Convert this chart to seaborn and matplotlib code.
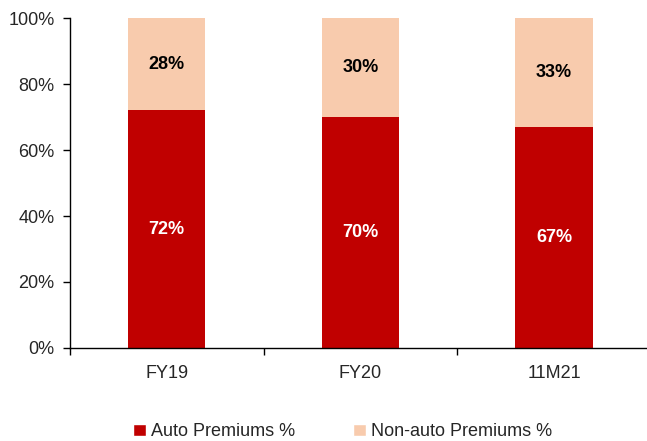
import numpy as np
import pandas as pd
import matplotlib.pyplot as plt
import seaborn as sns
from matplotlib.patches import Patch
from matplotlib.ticker import FixedLocator, PercentFormatter

# Data
periods = ['FY19', 'FY20', '11M21']
auto_pct = [72, 70, 67]
non_auto_pct = [28, 30, 33]

red = '#C00000'
peach = '#F8CBAD'

df = pd.DataFrame({'Period': periods, 'Auto': auto_pct, 'NonAuto': non_auto_pct})
df['Total'] = df['Auto'] + df['NonAuto']

sns.set_style('white')
plt.rcParams['font.family'] = ['Liberation Sans', 'DejaVu Sans']

fig = plt.figure(figsize=(6.47, 4.41), dpi=100)
ax = fig.add_axes([0.108, 0.211, 0.892, 0.748])

# stacked bars: full height in peach, auto part in red on top
sns.barplot(data=df, x='Period', y='Total', color=peach, width=0.4, saturation=1,
            linewidth=0, ax=ax)
sns.barplot(data=df, x='Period', y='Auto', color=red, width=0.4, saturation=1,
            linewidth=0, ax=ax)

# value labels
for i, row in df.iterrows():
    ax.text(i, row['Auto'] / 2, f"{row['Auto']}%", ha='center', va='center',
            color='white', fontsize=13, fontweight='bold')
    ax.text(i, row['Auto'] + row['NonAuto'] / 2, f"{row['NonAuto']}%", ha='center', va='center',
            color='black', fontsize=13, fontweight='bold')

ax.set_ylim(0, 100)
ax.set_xlim(-0.5, 2.48)
ax.set_yticks(np.arange(0, 101, 20))
ax.yaxis.set_major_formatter(PercentFormatter(decimals=0))
ax.set_xlabel('')
ax.set_ylabel('')

# category separators as minor ticks on x
ax.xaxis.set_minor_locator(FixedLocator([-0.5, 0.5, 1.5]))
ax.tick_params(axis='x', which='major', bottom=True, length=0, pad=12, labelsize=13)
ax.tick_params(axis='x', which='minor', bottom=True, length=5, width=1, color='black',
               direction='out')
ax.tick_params(axis='y', left=True, length=5, width=1, color='black', direction='out',
               labelsize=13, pad=6)

for s in ['top', 'right']:
    ax.spines[s].set_visible(False)
for s in ['left', 'bottom']:
    ax.spines[s].set_color('black')
    ax.spines[s].set_linewidth(1)

handles = [Patch(facecolor=red, label='Auto Premiums %'),
           Patch(facecolor=peach, label='Non-auto Premiums %')]
fig.legend(handles=handles, loc='lower center', bbox_to_anchor=(0.53, -0.035), ncol=2,
           frameon=False, fontsize=13, handlelength=0.7, handleheight=0.7,
           handletextpad=0.3, columnspacing=3.2)

fig.savefig('out.png', dpi=100)
